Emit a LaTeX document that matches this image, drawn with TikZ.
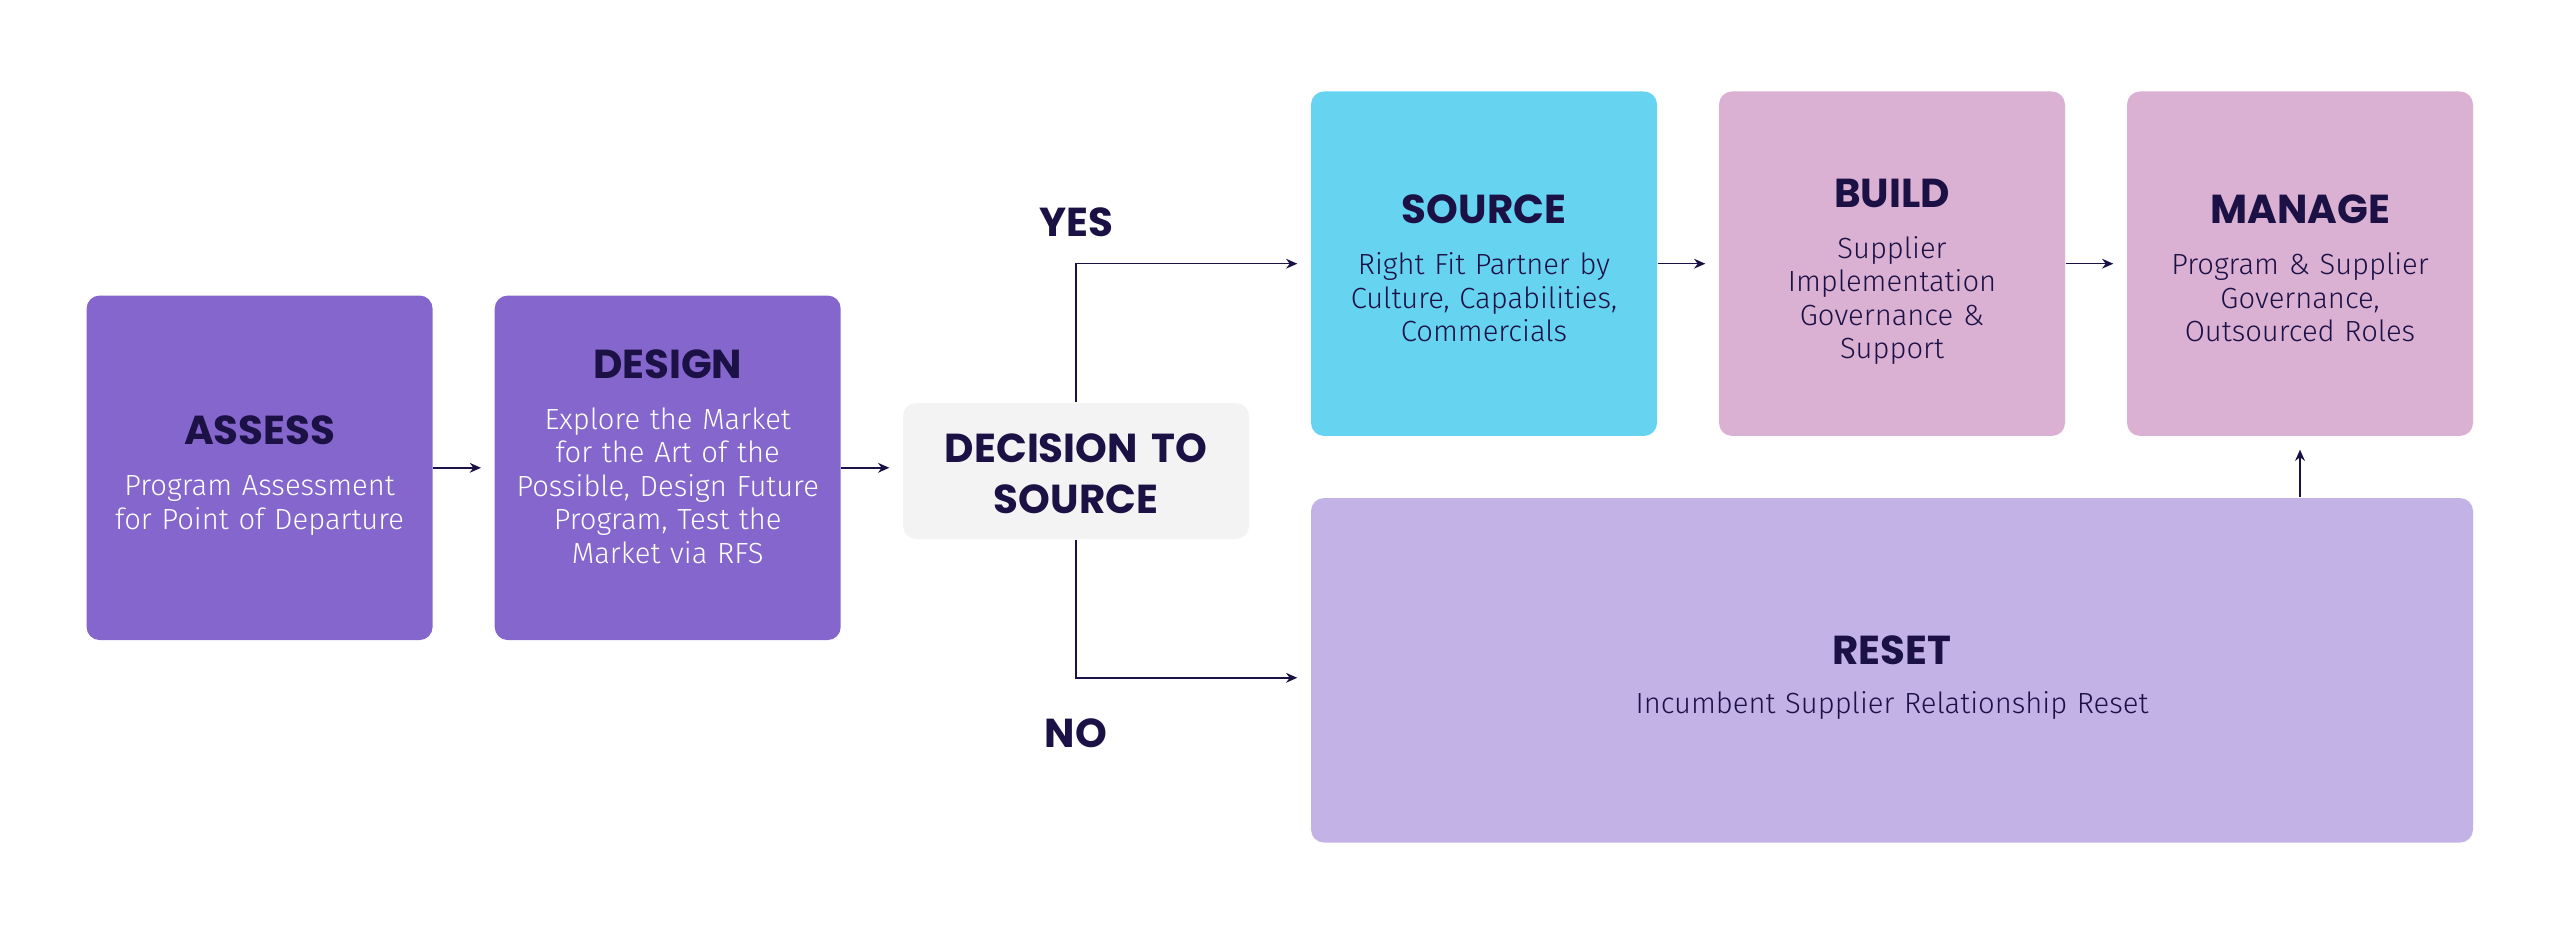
\documentclass[tikz,border=0pt]{standalone}
\usepackage{fontspec}
\usepackage{tikz}
\usepackage{xcolor}
\usetikzlibrary{arrows.meta}

\setmainfont{Fira Sans}
\newfontfamily\titlefont{Poppins}
\newfontfamily\bodyfont{Fira Sans Light}

\definecolor{ink}{HTML}{1B1145}
\definecolor{violetbox}{HTML}{8466CC}
\definecolor{greybox}{HTML}{F3F3F3}
\definecolor{cyanbox}{HTML}{66D4F1}
\definecolor{mauvebox}{HTML}{DBB1D3}
\definecolor{lilacbox}{HTML}{C3B2E5}

% optional argument: strut height, pushes the text block down a little
\newcommand{\heading}[2][0pt]{{\titlefont\bfseries\fontsize{11.5}{12}\selectfont\color{ink}\rule{0pt}{#1}#2}}

\tikzset{
    stage/.style = {rounded corners=0.13cm, minimum width=3.46cm,
                    minimum height=3.445cm, inner sep=0pt, align=center,
                    text width=3.3cm, text=ink,
                    font=\bodyfont\fontsize{8.3}{9.5}\selectfont},
    flow/.style  = {->, draw=ink, line width=0.45pt, shorten >=0.13cm},
    branch/.style = {font=\titlefont\bfseries\fontsize{11.5}{12}\selectfont, text=ink}
}

\begin{document}
\begin{tikzpicture}[>={Stealth[length=3.2pt,width=2.8pt]}]
    \useasboundingbox (0,0) rectangle (25.6,-9.35);

    \begin{scope}[every node/.style = {stage}]
        \node[fill=violetbox, text=white] (assess) at (2.596,-4.678)
            {\heading[12.7pt]{ASSESS}\\[5pt]Program Assessment\\for Point of Departure};
        \node[fill=violetbox, text=white] (design) at (6.677,-4.678)
            {\heading{DESIGN}\\[5pt]Explore the Market\\for the Art of the\\Possible, Design Future\\Program, Test the\\Market via RFS\rule[-6.5pt]{0pt}{0pt}};
        \node[fill=greybox, minimum height=1.36cm,
              font=\titlefont\bfseries\fontsize{11.5}{14.4}\selectfont] (decision) at (10.76,-4.71)
            {\rule{0pt}{9.9pt}DECISION TO\\SOURCE};
        \node[fill=cyanbox] (source) at (14.84,-2.637)
            {\heading[10.8pt]{SOURCE}\\[5pt]Right Fit Partner by\\Culture, Capabilities,\\Commercials};
        \node[fill=mauvebox] (build) at (18.92,-2.637)
            {\heading[12.7pt]{BUILD}\\[5pt]Supplier\\Implementation\\Governance \&\\Support};
        \node[fill=mauvebox] (manage) at (23.0,-2.637)
            {\heading[10.8pt]{MANAGE}\\[5pt]Program \& Supplier\\Governance,\\Outsourced Roles};
        \node[fill=lilacbox, minimum width=11.62cm, text width=8cm] (reset) at (18.92,-6.703)
            {\heading[12.3pt]{RESET}\\[4.6pt]Incumbent Supplier Relationship Reset};
    \end{scope}

    % branch labels
    \node[branch] (yes) at (10.76,-2.22) {YES};
    \node[branch] (no)  at (10.76,-7.33) {NO};

    % connectors
    \draw[flow] (assess) -- (design);
    \draw[flow] (design.east) -- (design.east -| decision.west);
    \draw[flow] (decision.north) |- (source.west);
    \draw[flow] (decision.south) |- ([yshift=-0.075cm]reset.west);
    \draw[flow] (source) -- (build);
    \draw[flow] (build) -- (manage);
    \draw[flow] (reset.north -| manage.south) -- (manage.south);
\end{tikzpicture}
\end{document}
